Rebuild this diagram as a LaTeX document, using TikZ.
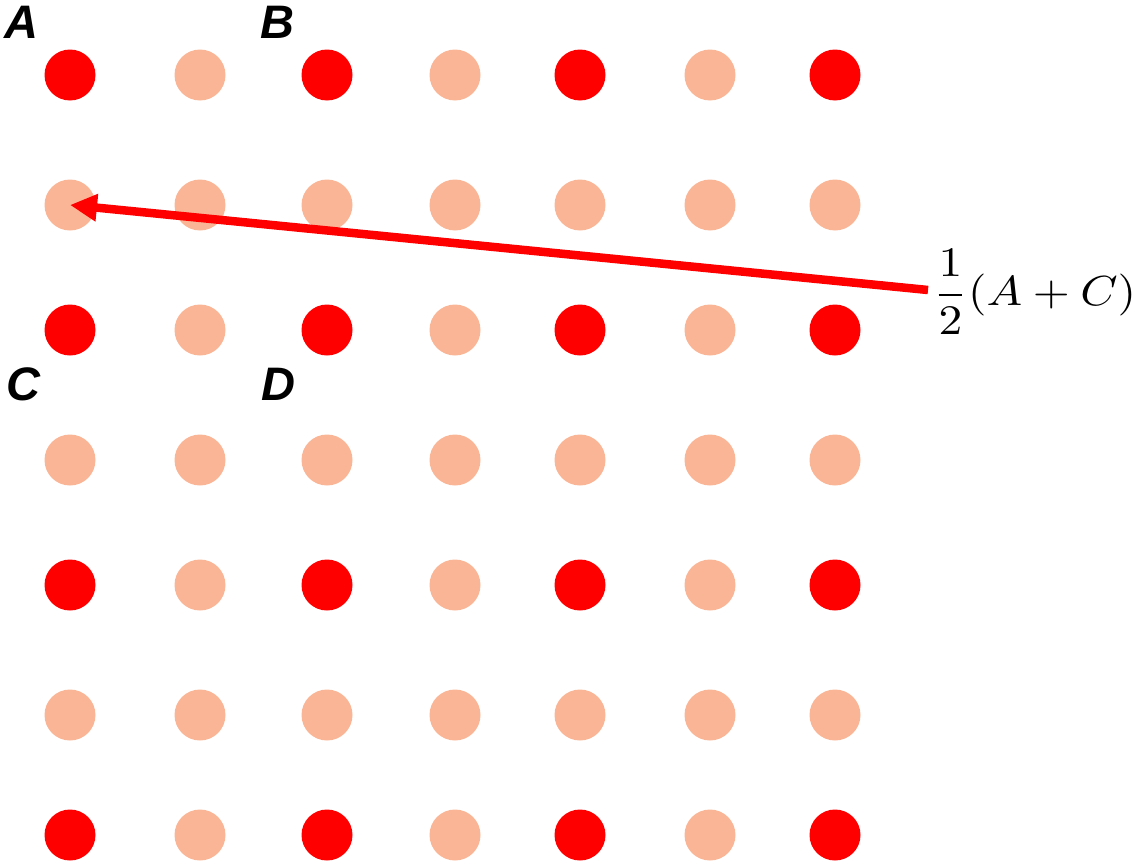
\documentclass[tikz,border=0pt]{standalone}
\usepackage{fontspec}
\newfontfamily\lblfont{Liberation Sans}
\usetikzlibrary{arrows.meta}
\definecolor{salmon}{RGB}{249,181,149}
\definecolor{pured}{RGB}{255,0,0}
\tikzset{
  dot/.style={circle,fill=#1,minimum size=51pt,inner sep=0pt,draw=none},
  corner/.style={font=\lblfont\bfseries\itshape\fontsize{47}{50}\selectfont,inner sep=0pt},
  vecarrow/.style={draw=pured,line width=8.5pt,-{Triangle[length=27pt,width=26pt]}},
  mathlbl/.style={inner sep=0pt,xscale=4.75,yscale=4.2,transform shape}
}
\begin{document}
\begin{tikzpicture}[x=1pt,y=-1pt]
\useasboundingbox (0,0) rectangle (1136,862);
\def\xs{{70,200,327,455,580,710,835}}
\def\ys{{75,205,330,460,585,715,835}}
\foreach \i in {0,...,6}{
  \foreach \j in {0,...,6}{
    \pgfmathsetmacro{\xx}{\xs[\j]}
    \pgfmathsetmacro{\yy}{\ys[\i]}
    \pgfmathtruncatemacro{\ev}{(mod(\i,2)==0 && mod(\j,2)==0) ? 1 : 0}
    \ifnum\ev=1
      \node[dot=pured] (d-\i-\j) at (\xx,\yy) {};
    \else
      \node[dot=salmon] (d-\i-\j) at (\xx,\yy) {};
    \fi
  }
}
\node[corner] (lA) at (21,22) {A};
\node[corner] (lB) at (277,22) {B};
\node[corner] (lC) at (23,384) {C};
\node[corner] (lD) at (278,384) {D};
\coordinate (start) at (928,290);
\draw[vecarrow] (start) -- (d-1-0.center);
\node[mathlbl,anchor=west] (lbl) at (932,292) {$\displaystyle\frac{1}{2}(A+C)$};
\end{tikzpicture}
\end{document}
